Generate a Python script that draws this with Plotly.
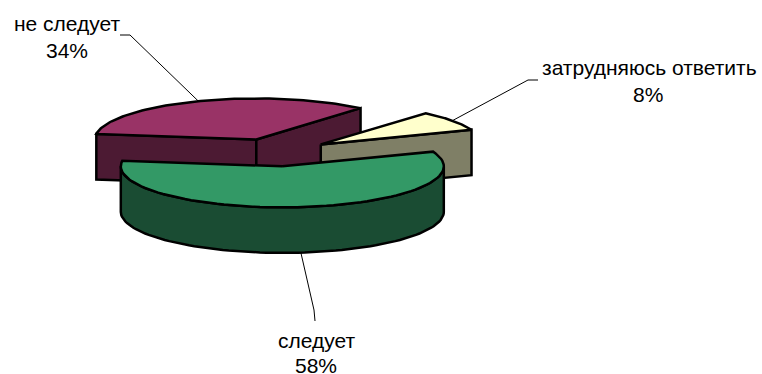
import numpy as np
import plotly.graph_objects as go

# данные
categories = ['следует', 'не следует', 'затрудняюсь ответить']
shares = [58, 34, 8]

# цвета
top_colors = ['#339966', '#993366', '#ffffcc']
side_colors = ['#1a4c33', '#4c1a33', '#7f7f66']

# геометрия псевдо-3D круга (пиксели окна)
cx, cy = 276, 152.5
rx, ry = 161.5, 41
depth = 45.5
explode = 0.34
first_angle = 21  # угол начала первого сектора, по часовой стрелке

# порядок отрисовки: задний сектор раньше
draw_order = [1, 2, 0]

# подписи: строка, x, y
label_rows = [
    [(316, 340), (316, 365)],
    [(67, 23), (67, 50)],
    [(649, 67), (648, 94)],
]
# колена выносок
elbows = [
    [(314, 310), (315, 321)],
    [(130, 35), (120, 35)],
    [(528, 80), (538, 80)],
]

fig = go.Figure()


def add_poly(xs, ys, color):
    fig.add_trace(go.Scatter(x=xs, y=ys, mode='lines', fill='toself', fillcolor=color,
                             line=dict(color='black', width=2.5), hoverinfo='skip',
                             showlegend=False))


# углы секторов по долям
slices = []
a = first_angle
for s in shares:
    sweep = s / sum(shares) * 360
    mid = np.radians(a - sweep / 2)
    center = (cx + explode * rx * np.cos(mid), cy - explode * ry * np.sin(mid))
    slices.append((a, a - sweep, center, mid))
    a -= sweep


def arc(center, a0, a1, dy=0):
    t = np.radians(np.linspace(a0, a1, 80))
    return center[0] + rx * np.cos(t), center[1] - ry * np.sin(t) + dy


for i in draw_order:
    a0, a1, c, mid = slices[i]
    # плоские срезы
    for ang, normal in ((a0, a0 + 90), (a1, a1 - 90)):
        if np.sin(np.radians(normal)) < 0:
            ex = c[0] + rx * np.cos(np.radians(ang))
            ey = c[1] - ry * np.sin(np.radians(ang))
            add_poly([c[0], ex, ex, c[0], c[0]],
                     [c[1], ey, ey + depth, c[1] + depth, c[1]], side_colors[i])
    # внешняя стенка (только передняя половина)
    for lo, hi in ((-180, 0), (180, 360), (-540, -360)):
        s0, s1 = max(a1, lo), min(a0, hi)
        if s1 > s0:
            xt, yt = arc(c, s1, s0)
            xb, yb = arc(c, s0, s1, depth)
            add_poly(list(xt) + list(xb) + [xt[0]], list(yt) + list(yb) + [yt[0]], side_colors[i])
    # верхняя грань
    xt, yt = arc(c, a0, a1)
    add_poly([c[0]] + list(xt) + [c[0]], [c[1]] + list(yt) + [c[1]], top_colors[i])

# выноски
for i, (a0, a1, c, mid) in enumerate(slices):
    sx = c[0] + rx * np.cos(mid)
    sy = c[1] - ry * np.sin(mid)
    if np.sin(mid) < 0:
        sy += depth
    fig.add_trace(go.Scatter(x=[sx] + [p[0] for p in elbows[i]], y=[sy] + [p[1] for p in elbows[i]],
                             mode='lines', line=dict(color='black', width=1),
                             hoverinfo='skip', showlegend=False))

# подписи
for i, name in enumerate(categories):
    rows = [name, f'{shares[i]}%']
    for txt, (tx, ty) in zip(rows, label_rows[i]):
        fig.add_annotation(x=tx, y=ty, text=txt, showarrow=False, xanchor='center', yanchor='middle',
                           font=dict(family='Liberation Sans', size=21, color='black'))

fig.update_xaxes(range=[0, 762], visible=False)
fig.update_yaxes(range=[374, 0], visible=False)
fig.update_layout(width=762, height=374, margin=dict(l=0, r=0, t=0, b=0),
                  paper_bgcolor='white', plot_bgcolor='white', showlegend=False)

# убираем отступ страницы и панель инструментов
fig.write_html("out.html", post_script="document.body.style.margin='0';",
               config={'displayModeBar': False})
